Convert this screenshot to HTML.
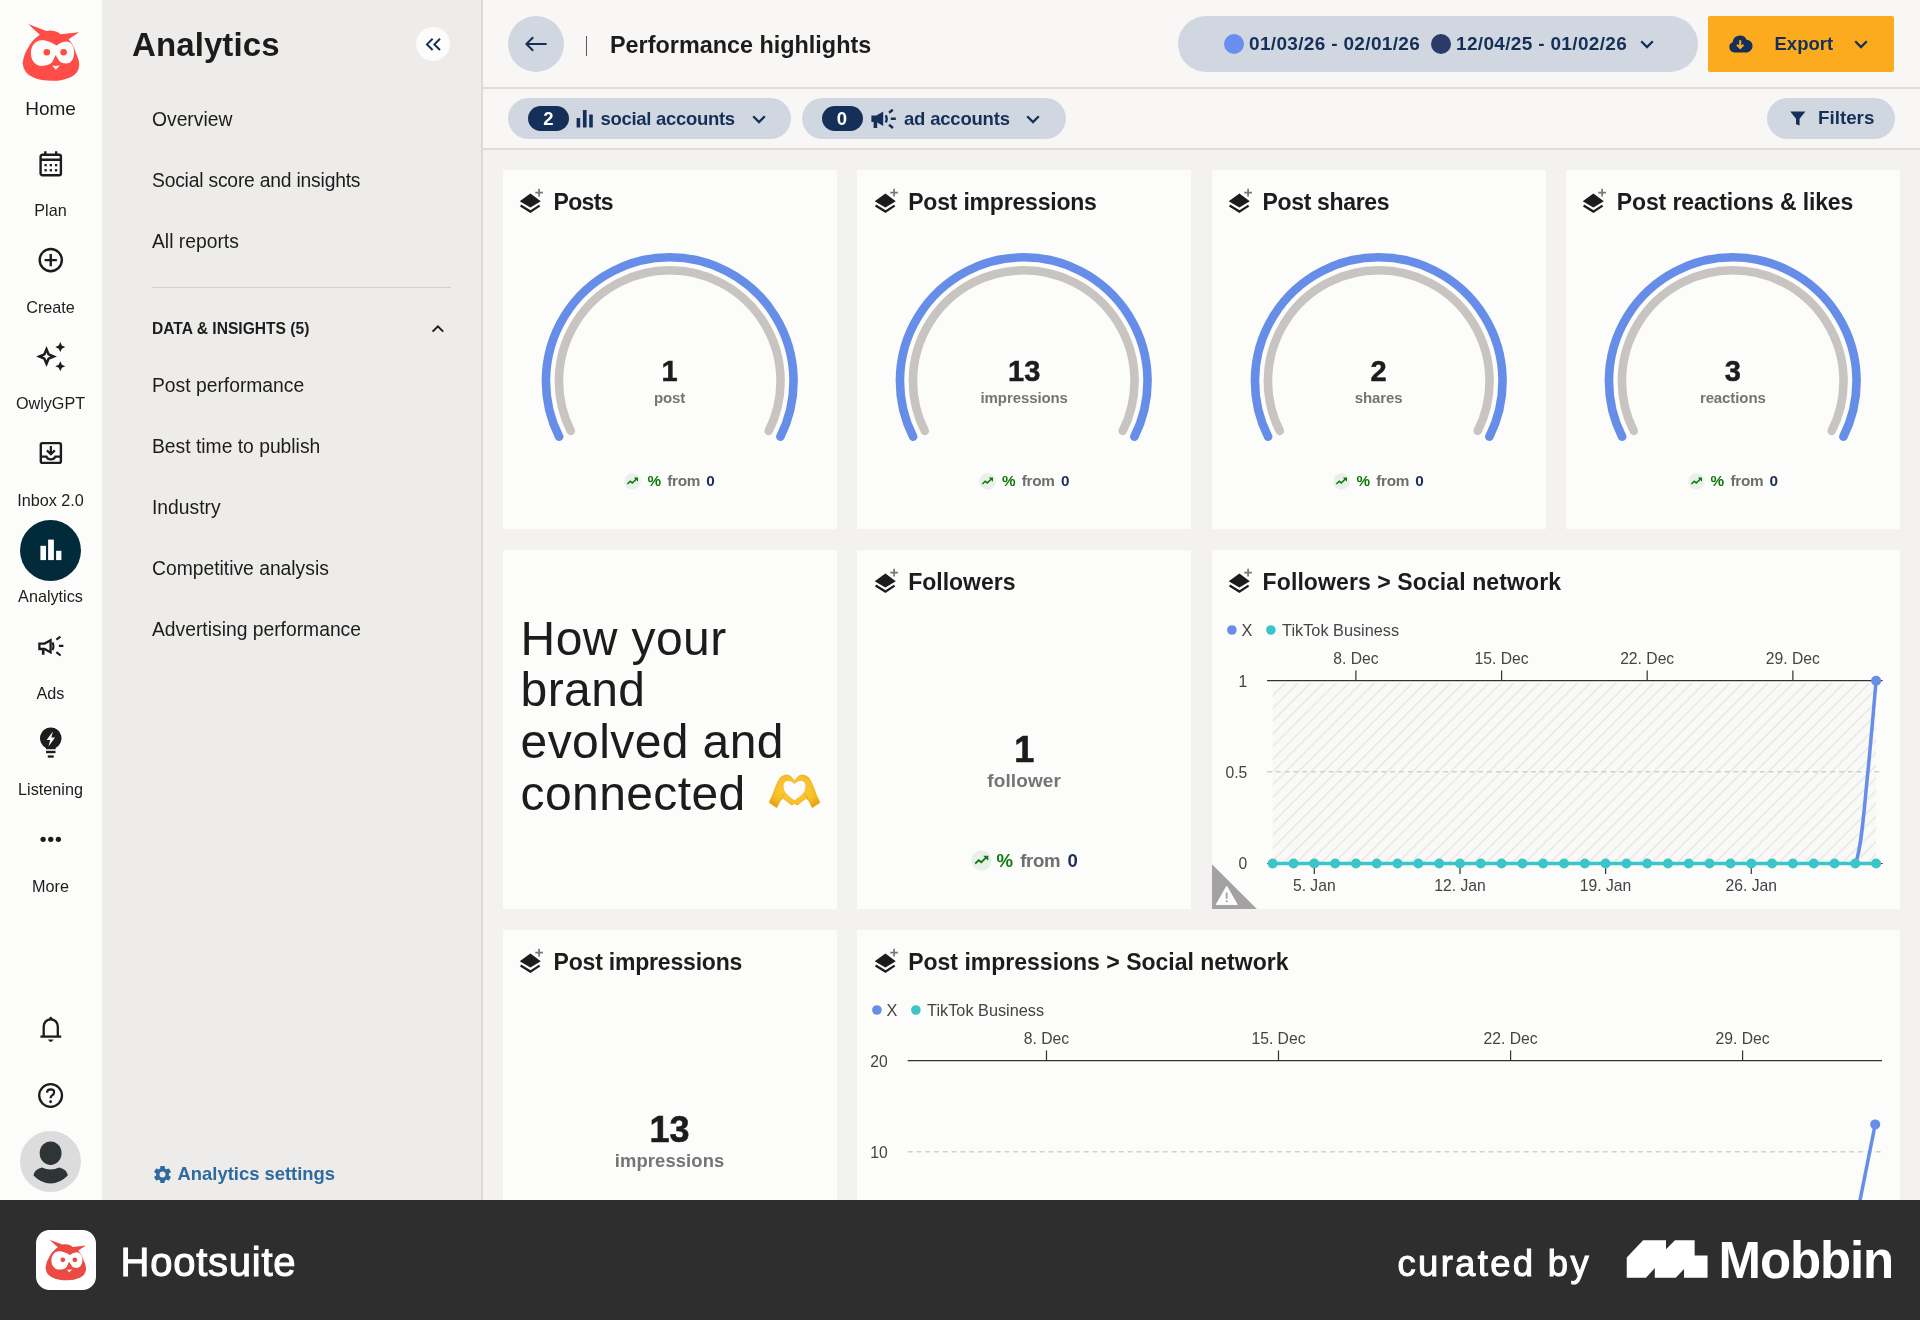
<!DOCTYPE html>
<html lang="en">
<head>
<meta charset="utf-8">
<title>Hootsuite Analytics - Performance highlights</title>
<style>
*{box-sizing:border-box;margin:0;padding:0}
html,body{width:1920px;height:1320px;overflow:hidden;background:#f3f2f0}
body{font-family:"Liberation Sans",sans-serif;color:#1c1c1c;position:relative;-webkit-font-smoothing:antialiased;will-change:transform}
svg{display:block}
.abs{position:absolute}
/* ---------- left rail ---------- */
#rail{position:absolute;left:0;top:0;width:102px;height:1200px;background:#fcfcfb}
.ritem{position:absolute;left:0;width:101px;text-align:center}
.ritem svg{margin:0 auto}
.rlabel{position:absolute;left:0;width:101px;text-align:center;font-size:16.2px;line-height:20px;margin-top:0.5px;color:#1c1c1c;white-space:nowrap}
.rlabel.home{font-size:19px}
#activeDot{position:absolute;left:20px;top:520px;width:61px;height:61px;border-radius:50%;background:#012b3b}
#avatar{position:absolute;left:20px;top:1131px;width:61px;height:61px;border-radius:50%;background:#dcdcdc;overflow:hidden}
/* ---------- sidebar ---------- */
#side{position:absolute;z-index:2;left:102px;top:0;width:381px;height:1200px;background:#edecea;border-right:2px solid #dddbd8}
#side h1{position:absolute;left:30px;top:25px;font-size:33px;line-height:40px;font-weight:700;color:#1c1c1c;letter-spacing:0.1px}
#collapse{position:absolute;left:313.6px;top:26.6px;width:34.8px;height:34.8px;border-radius:50%;background:#fcfcfb}
.snav{position:absolute;left:50px;font-size:19.3px;line-height:24px;color:#1c1c1c;white-space:nowrap;margin-top:1px}
#sdiv{position:absolute;left:50px;top:287px;width:299px;height:1px;background:#d1cfcc}
#shead{position:absolute;left:50px;top:318px;font-size:15.6px;line-height:22px;font-weight:700;color:#1c1c1c;white-space:nowrap}
#ssettings{position:absolute;left:75.6px;top:1162px;font-size:18.4px;line-height:24px;font-weight:700;color:#2d6a9f;white-space:nowrap}
/* ---------- main ---------- */
#topbar{position:absolute;left:482px;top:0;width:1438px;height:89px;background:#f8f7f6;border-bottom:2px solid #dfddda}
#filterbar{position:absolute;left:482px;top:89px;width:1438px;height:61px;background:#f8f7f6;border-bottom:2px solid #dfddda}
.pill{position:absolute;border-radius:40px;background:#d1d7e1;color:#143059;font-weight:700;white-space:nowrap}
.badge{position:absolute;background:#143059;color:#fff;border-radius:14px;text-align:center;font-weight:700}
.card{position:absolute;background:#fcfcfb;width:334px;height:359px;overflow:hidden}
.ctitle{position:absolute;left:51px;top:16px;font-size:23px;line-height:32px;font-weight:700;color:#1c1c1c;white-space:nowrap;letter-spacing:0.1px}
.cicon{position:absolute;left:14.5px;top:17.3px}
  .dt{font-size:19px;line-height:24px;letter-spacing:0.33px}
.gnum{position:absolute;left:0;width:100%;top:184px;text-align:center;font-size:29px;line-height:34px;font-weight:700;color:#1c1c1c;-webkit-text-stroke:0.5px #1c1c1c}
.gunit{position:absolute;left:0;width:100%;top:218px;text-align:center;letter-spacing:-0.1px;font-size:15px;line-height:20px;font-weight:700;color:#757575}
.gdelta{position:absolute;left:0;width:100%;top:301px;text-align:center;font-size:15.3px;word-spacing:1px;line-height:20px;font-weight:700;white-space:nowrap}
.gdelta .tr{display:inline-block;width:17px;height:17px;vertical-align:-3.5px;margin-right:6px}
.pc{color:#0f7b0f}.fr{color:#6f6f6f;letter-spacing:-0.3px;margin-left:1px}.zr{color:#1f2d5a;margin-left:1px}
.hero{position:absolute;left:18px;top:62.5px;font-size:48px;line-height:51.8px;color:#1c1c1c;white-space:nowrap;font-weight:400;letter-spacing:0.4px}
.hero .hh{display:inline-block;vertical-align:top;margin-left:0.5px;margin-top:-2.6px}
.bnum{position:absolute;left:0;width:100%;top:178.5px;text-align:center;font-size:36px;line-height:42px;font-weight:700;color:#1c1c1c;-webkit-text-stroke:0.6px #1c1c1c}
.bunit{position:absolute;left:0;width:100%;top:219px;text-align:center;font-size:19px;line-height:24px;font-weight:700;color:#757575;letter-spacing:0.1px}
.bdelta{position:absolute;left:0;width:100%;top:298.6px;word-spacing:1px;text-align:center;font-size:18.6px;line-height:24px;font-weight:700;white-space:nowrap}
.bdelta .tr{display:inline-block;width:21px;height:21px;vertical-align:-4px;margin-right:5px}
.chart text{font-family:"Liberation Sans",sans-serif;fill:#444}
.chart .lg{font-size:16.3px}
.chart .ax{font-size:15.7px}
/* ---------- footer ---------- */
#foot{position:absolute;left:0;top:1200px;width:1920px;height:120px;background:#2e2e2e}
</style>
</head>
<body>

<!-- LEFT RAIL -->
<nav id="rail">
  <!-- owl logo -->
  <svg class="abs" style="left:10px;top:15px" width="80" height="80" viewBox="0 0 80 80" role="img" aria-label="Hootsuite">
    <path fill="#ff4c46" d="M18.2 9.1 L36.4 15.9 Q42.5 14.8 47.9 17.3 L50.6 19.2 L69.1 17.2 L58.6 24.2 Q64 30.5 66.3 39 Q69.3 45.5 69.2 49.5 Q69 58.5 60.6 62.2 Q52 66 42.4 65.8 Q31 65.8 23.6 62.6 Q13.5 58.5 12.7 48.2 Q13.4 40 18.2 32.7 Q21.5 25.5 29.8 19.7 Z"/>
    <path fill="#fcfcfb" d="M31.5 25.3 C36.5 25.2 40 26.8 46.7 30.4 C51 27.6 54 26.6 56.6 26.6 C61.5 26.8 64.2 32 64.2 37.6 C64.2 43.8 61 48.6 56.4 48.6 C53.2 48.6 51 47.6 49.5 46.3 L45.5 40.2 L42.7 46.8 C40.2 49.4 36.8 50.9 31.6 50.9 C25.5 50.9 20.9 45.5 20.9 38.2 C20.9 30.8 25.4 25.4 31.5 25.3 Z"/>
    <circle cx="36.8" cy="37.3" r="3.3" fill="#ff4c46"/>
    <circle cx="53.6" cy="37.3" r="3.3" fill="#ff4c46"/>
    <path fill="#ff4c46" d="M45.5 40.4 L41.4 49.6 Q45.8 50.6 50.6 49.2 Z"/>
    <path fill="#fcfcfb" d="M42.2 50.6 Q46 51.5 50 50.3 L45.8 54.8 Z"/>
  </svg>
  <div class="rlabel home" style="top:98px">Home</div>

  <!-- Plan -->
  <svg class="abs" style="left:38px;top:150px" width="26" height="28" viewBox="0 0 26 28" fill="none" stroke="#1c1c1c" stroke-width="2.4">
    <rect x="2.6" y="4.8" width="20.3" height="20.4" rx="1.8"/>
    <path d="M2.6 9.8H22.9M7.3 1.2V5M18.2 1.2V5"/>
    <g fill="#1c1c1c" stroke="none"><rect x="6.5" y="14" width="2.3" height="2.3"/><rect x="11.7" y="14" width="2.3" height="2.3"/><rect x="16.9" y="14" width="2.3" height="2.3"/><rect x="6.5" y="19.1" width="2.3" height="2.3"/><rect x="11.7" y="19.1" width="2.3" height="2.3"/><rect x="16.9" y="19.1" width="2.3" height="2.3"/></g>
  </svg>
  <div class="rlabel" style="top:199px">Plan</div>

  <!-- Create -->
  <svg class="abs" style="left:37px;top:246px" width="28" height="28" viewBox="0 0 28 28" fill="none" stroke="#1c1c1c" stroke-width="2.4">
    <circle cx="13.75" cy="14.1" r="11.1"/><path d="M13.75 8V20.2M7.6 14.1H19.9"/>
  </svg>
  <div class="rlabel" style="top:296px">Create</div>

  <!-- OwlyGPT -->
  <svg class="abs" style="left:34px;top:340px" width="34" height="34" viewBox="0 -3 34 34" fill="#1c1c1c">
    <path fill-rule="evenodd" d="M12.50 3.00L15.60 10.40L23.00 13.50L15.60 16.60L12.50 24.00L9.40 16.60L2.00 13.50L9.40 10.40ZM12.50 9.60L13.65 12.35L16.40 13.50L13.65 14.65L12.50 17.40L11.35 14.65L8.60 13.50L11.35 12.35Z"/>
    <path d="M26.30 -0.90L27.85 2.55L31.30 4.10L27.85 5.65L26.30 9.10L24.75 5.65L21.30 4.10L24.75 2.55Z"/>
    <path d="M26.30 18.20L27.85 21.65L31.30 23.20L27.85 24.75L26.30 28.20L24.75 24.75L21.30 23.20L24.75 21.65Z"/>
  </svg>
  <div class="rlabel" style="top:392px">OwlyGPT</div>

  <!-- Inbox -->
  <svg class="abs" style="left:38px;top:440px" width="26" height="26" viewBox="0 0 26 26" fill="none" stroke="#1c1c1c" stroke-width="2.4">
    <rect x="2.8" y="3.1" width="20.1" height="19.8" rx="1.6"/>
    <path d="M2.8 16.6H8.4Q9.5 19.4 12.85 19.4Q16.2 19.4 17.3 16.6H22.9"/>
    <path d="M12.85 6V14M8.9 10.4L12.85 14.3L16.8 10.4" stroke-width="2.2"/>
  </svg>
  <div class="rlabel" style="top:489px">Inbox 2.0</div>

  <!-- Analytics (active) -->
  <div id="activeDot"></div>
  <svg class="abs" style="left:38px;top:537px" width="26" height="26" viewBox="0 0 26 26" fill="#fcfcfb">
    <rect x="2.4" y="8.8" width="5.6" height="14.3"/><rect x="10.1" y="2.6" width="5.8" height="20.5"/><rect x="18.1" y="13.8" width="5.3" height="9.3"/>
  </svg>
  <div class="rlabel" style="top:585px">Analytics</div>

  <!-- Ads -->
  <svg class="abs" style="left:36px;top:633px" width="30" height="26" viewBox="0 0 30 26" fill="none" stroke="#1c1c1c" stroke-width="2.3">
    <path d="M3.4 10.6H8.6L14.6 7.2V19.4L8.6 16H3.4Z" stroke-linejoin="miter"/>
    <path d="M7.2 16V21.8" stroke-width="2.6"/>
    <path d="M16.6 9.4Q18.4 13.3 16.6 17.2" stroke-width="2"/>
    <path d="M20.4 6.7L24.4 3.7M22.9 12.9H27.4M20.4 19.2L24.6 22.5" stroke-width="2.2"/>
  </svg>
  <div class="rlabel" style="top:682px">Ads</div>

  <!-- Listening -->
  <svg class="abs" style="left:38px;top:726px" width="26" height="34" viewBox="0 0 26 34">
    <path fill="#1c1c1c" d="M12.75 1.6 A10.7 10.7 0 0 1 17.6 21.9 V23.3 H7.9 V21.9 A10.7 10.7 0 0 1 12.75 1.6Z"/>
    <path fill="#fcfcfb" d="M14.9 5.4 L8.6 13.9 H12.2 L10.5 20.6 L17 11.5 H13.3 Z"/>
    <rect fill="#1c1c1c" x="8" y="24.8" width="9.5" height="2.4"/><rect fill="#1c1c1c" x="9.8" y="29.4" width="5.9" height="2.3"/>
  </svg>
  <div class="rlabel" style="top:778px">Listening</div>

  <!-- More -->
  <svg class="abs" style="left:38px;top:834px" width="26" height="10" viewBox="0 0 26 10" fill="#1c1c1c">
    <circle cx="5.1" cy="5.3" r="2.65"/><circle cx="12.75" cy="5.3" r="2.65"/><circle cx="20.4" cy="5.3" r="2.65"/>
  </svg>
  <div class="rlabel" style="top:875px">More</div>

  <!-- bell -->
  <svg class="abs" style="left:38px;top:1014px" width="26" height="30" viewBox="0 0 26 30" fill="none" stroke="#1c1c1c" stroke-width="2.3">
    <path d="M5.7 22.4V12.4A7.05 7.05 0 0 1 19.8 12.4V22.4"/><path d="M2.4 22.6H23.2"/>
    <circle cx="12.75" cy="4.2" r="1.5" fill="#1c1c1c" stroke="none"/>
    <path d="M9.9 25.6Q12.75 30.2 15.6 25.6Z" fill="#1c1c1c" stroke="none"/>
  </svg>

  <!-- help -->
  <svg class="abs" style="left:36px;top:1081px" width="30" height="30" viewBox="0 0 30 30" fill="none" stroke="#1c1c1c" stroke-width="2.3">
    <circle cx="14.6" cy="14.5" r="11.4"/>
    <path d="M11 11.6Q11.2 8.3 14.7 8.3Q18.2 8.4 18.1 11.3Q18.1 13.2 16.1 14.4Q14.6 15.4 14.6 17.3" stroke-width="2.2"/>
    <circle cx="14.6" cy="20.7" r="1.45" fill="#1c1c1c" stroke="none"/>
  </svg>

  <!-- avatar -->
  <div id="avatar">
    <svg width="61" height="61" viewBox="0 0 61 61"><ellipse cx="30.6" cy="22.2" rx="10.9" ry="11.8" fill="#2f3437"/><path fill="#2f3437" d="M13.5 44.5Q14 38.5 22 36.4Q30.6 40.5 39.2 36.4Q47.2 38.5 47.8 44.5Q40 52.4 30.6 52.4Q21.2 52.4 13.5 44.5Z"/></svg>
  </div>
</nav>

<!-- SIDEBAR -->
<aside id="side">
  <h1>Analytics</h1>
  <div id="collapse"><svg width="34.8" height="34.8" viewBox="0.6 0.6 34.8 34.8" fill="none" stroke="#143059" stroke-width="2"><path d="M17.2 12.4L11.6 18L17.2 23.6M24.6 12.4L19 18L24.6 23.6"/></svg></div>
  <div class="snav" style="top:107px">Overview</div>
  <div class="snav" style="top:168px;letter-spacing:-0.2px">Social score and insights</div>
  <div class="snav" style="top:229px">All reports</div>
  <div id="sdiv"></div>
  <div id="shead">DATA &amp; INSIGHTS (5)</div>
  <svg class="abs" style="left:326px;top:320px" width="20" height="18" viewBox="0 0 20 18" fill="none" stroke="#1c1c1c" stroke-width="2"><path d="M4.6 11.6L9.9 6.3L15.2 11.6"/></svg>
  <div class="snav" style="top:373px">Post performance</div>
  <div class="snav" style="top:434px">Best time to publish</div>
  <div class="snav" style="top:495px">Industry</div>
  <div class="snav" style="top:556px">Competitive analysis</div>
  <div class="snav" style="top:617px">Advertising performance</div>
  <svg class="abs" style="left:50.6px;top:1165px" width="19" height="19" viewBox="-9.5 -9.5 19 19" fill="#2d6a9f"><g><rect x="-2.3" y="-8.6" width="4.6" height="17.2" rx="0.8"/><rect x="-2.3" y="-8.6" width="4.6" height="17.2" rx="0.8" transform="rotate(60)"/><rect x="-2.3" y="-8.6" width="4.6" height="17.2" rx="0.8" transform="rotate(120)"/></g><circle r="6.5"/><circle r="3" fill="#edecea"/></svg>
  <div id="ssettings">Analytics settings</div>
</aside>

<!-- TOP BAR -->
<header id="topbar">
  <div class="abs" id="backbtn" style="left:26px;top:16px;width:56px;height:56px;border-radius:50%;background:#d1d7e1">
    <svg width="56" height="56" viewBox="0 0 56 56" fill="none" stroke="#143059" stroke-width="2"><path d="M38.6 28H18.6M25.2 21.2L18.4 28L25.2 34.8"/></svg>
  </div>
  <div class="abs" style="left:104px;top:36px;width:1.2px;height:20px;background:#55595f"></div>
  <div class="abs" id="ptitle" style="left:128px;top:28.7px;font-size:23.4px;line-height:32px;font-weight:700;color:#1c1c1c;white-space:nowrap">Performance highlights</div>

  <div class="pill" style="left:696px;top:16px;width:520px;height:56px">
    <span class="abs" style="left:46px;top:18px;width:20px;height:20px;border-radius:50%;background:#6a8df0"></span>
    <span class="abs dt" style="left:71px;top:16px">01/03/26 - 02/01/26</span>
    <span class="abs" style="left:252.5px;top:18px;width:20px;height:20px;border-radius:50%;background:#2b3a67"></span>
    <span class="abs dt" style="left:278px;top:16px">12/04/25 - 01/02/26</span>
    <svg class="abs" style="left:461px;top:20px" width="16" height="16" viewBox="0 0 16 16" fill="none" stroke="#143059" stroke-width="2.3"><path d="M2.2 5.2L8 11L13.8 5.2"/></svg>
  </div>

  <div class="abs" id="export" style="left:1226px;top:16px;width:186.4px;height:56px;border-radius:2px;background:#fcab1f;color:#143059;font-weight:700">
    <svg class="abs" style="left:20px;top:17px" width="26" height="22" viewBox="0 0 26 22"><path fill="#143059" d="M6.6 19.4A5.3 5.3 0 0 1 4.6 9.2A7.4 7.4 0 0 1 18.6 6.7A6.4 6.4 0 0 1 19.2 19.4Z"/><path d="M12.2 7.2V14.6M9 11.8L12.2 15L15.4 11.8" fill="none" stroke="#fcab1f" stroke-width="2"/></svg>
    <span class="abs" style="left:66.5px;top:16px;font-size:18.5px;line-height:24px">Export</span>
    <svg class="abs" style="left:145px;top:20px" width="16" height="16" viewBox="0 0 16 16" fill="none" stroke="#143059" stroke-width="2.3"><path d="M2.2 5.2L8 11L13.8 5.2"/></svg>
  </div>
</header>
<div id="filterbar">
  <div class="pill" style="left:26px;top:9px;width:283px;height:41px">
    <span class="badge" style="left:20px;top:8px;width:41px;height:25px;font-size:18.5px;line-height:25px">2</span>
    <svg class="abs" style="left:68px;top:11px" width="18" height="20" viewBox="0 0 18 20" fill="#143059"><rect x="0.6" y="9" width="3.6" height="9.6" rx="0.6"/><rect x="6.9" y="1" width="3.7" height="17.6" rx="0.6"/><rect x="13.2" y="5.6" width="3.6" height="13" rx="0.6"/></svg>
    <span class="abs" style="left:92.5px;top:9px;font-size:18.5px;line-height:24px;letter-spacing:-0.3px">social accounts</span>
    <svg class="abs" style="left:243px;top:13px" width="16" height="16" viewBox="0 0 16 16" fill="none" stroke="#143059" stroke-width="2.3"><path d="M2.2 5.2L8 11L13.8 5.2"/></svg>
  </div>
  <div class="pill" style="left:319.5px;top:9px;width:264px;height:41px">
    <span class="badge" style="left:20px;top:8px;width:41px;height:25px;font-size:18.5px;line-height:25px">0</span>
    <svg class="abs" style="left:68px;top:9px" width="28" height="24" viewBox="0 0 28 24"><path fill="#143059" d="M1.4 8.6H6.4L13.2 4.6V19L6.4 15H1.4Z"/><rect fill="#143059" x="3.6" y="14" width="3.6" height="7"/><path fill="none" stroke="#143059" stroke-width="2.3" d="M15.8 8.2Q17.6 11.8 15.8 15.4"/><path fill="none" stroke="#143059" stroke-width="2.4" d="M19 5.8L22.8 2.8M20.8 11.8H25.8M19 17.8L23 21"/></svg>
    <span class="abs" style="left:102.5px;top:9px;font-size:18.5px;line-height:24px;letter-spacing:-0.2px">ad accounts</span>
    <svg class="abs" style="left:223px;top:13px" width="16" height="16" viewBox="0 0 16 16" fill="none" stroke="#143059" stroke-width="2.3"><path d="M2.2 5.2L8 11L13.8 5.2"/></svg>
  </div>
  <div class="pill" style="left:1284.5px;top:9px;width:128.5px;height:41px">
    <svg class="abs" style="left:22px;top:12px" width="18" height="18" viewBox="0 0 18 18" fill="#143059"><path d="M1.2 1.6H16.4L10.6 8.8V15.6L7 14.2V8.8Z"/></svg>
    <span class="abs" style="left:51.5px;top:8px;font-size:18.8px;line-height:24px">Filters</span>
  </div>
</div>

<!-- CARDS -->
<main id="cards">
  <section class="card" style="left:502.6px;top:170px">
    <svg class="cicon" width="28" height="28" viewBox="0 0 28 28"><path fill="#1c1c1c" d="M2.7 14.2L13.4 6.6L23.8 14.2L13.4 20.6Z"/><path fill="none" stroke="#1c1c1c" stroke-width="2.3" d="M3.6 18.6L13.4 24.6L22.6 18.6"/><path fill="none" stroke="#777" stroke-width="1.7" d="M22.1 1.8V9.4M18.3 5.6H25.9"/></svg>
    <h2 class="ctitle" style="letter-spacing:-0.7px">Posts</h2>
    <svg class="abs" style="left:0;top:0" width="334" height="359" viewBox="0 0 334 359" fill="none" stroke-linecap="round" stroke-width="8.6"><path stroke="#668ee8" d="M56.15 266.73A123.8 123.8 0 1 1 277.35 266.73"/><path stroke="#c8c4c2" d="M67.76 260.88A110.8 110.8 0 1 1 265.74 260.88"/></svg>
    <div class="gnum">1</div>
    <div class="gunit">post</div>
    <div class="gdelta"><span class="tr"><svg width="17" height="17" viewBox="0 0 17 17"><circle cx="8.5" cy="8.5" r="8.3" fill="#e9efe9"/><path fill="none" stroke="#0f7b0f" stroke-width="1.5" d="M3.4 11L6.2 8.3L8.3 9.9L12.4 6"/><path fill="#0f7b0f" d="M9.8 4.6H14V8.8Z"/></svg></span><span class="pc">%</span> <span class="fr">from</span> <span class="zr">0</span></div>
  </section>
  <section class="card" style="left:857.2px;top:170px">
    <svg class="cicon" width="28" height="28" viewBox="0 0 28 28"><path fill="#1c1c1c" d="M2.7 14.2L13.4 6.6L23.8 14.2L13.4 20.6Z"/><path fill="none" stroke="#1c1c1c" stroke-width="2.3" d="M3.6 18.6L13.4 24.6L22.6 18.6"/><path fill="none" stroke="#777" stroke-width="1.7" d="M22.1 1.8V9.4M18.3 5.6H25.9"/></svg>
    <h2 class="ctitle" style="letter-spacing:-0.2px">Post impressions</h2>
    <svg class="abs" style="left:0;top:0" width="334" height="359" viewBox="0 0 334 359" fill="none" stroke-linecap="round" stroke-width="8.6"><path stroke="#668ee8" d="M56.15 266.73A123.8 123.8 0 1 1 277.35 266.73"/><path stroke="#c8c4c2" d="M67.76 260.88A110.8 110.8 0 1 1 265.74 260.88"/></svg>
    <div class="gnum">13</div>
    <div class="gunit">impressions</div>
    <div class="gdelta"><span class="tr"><svg width="17" height="17" viewBox="0 0 17 17"><circle cx="8.5" cy="8.5" r="8.3" fill="#e9efe9"/><path fill="none" stroke="#0f7b0f" stroke-width="1.5" d="M3.4 11L6.2 8.3L8.3 9.9L12.4 6"/><path fill="#0f7b0f" d="M9.8 4.6H14V8.8Z"/></svg></span><span class="pc">%</span> <span class="fr">from</span> <span class="zr">0</span></div>
  </section>
  <section class="card" style="left:1211.6px;top:170px">
    <svg class="cicon" width="28" height="28" viewBox="0 0 28 28"><path fill="#1c1c1c" d="M2.7 14.2L13.4 6.6L23.8 14.2L13.4 20.6Z"/><path fill="none" stroke="#1c1c1c" stroke-width="2.3" d="M3.6 18.6L13.4 24.6L22.6 18.6"/><path fill="none" stroke="#777" stroke-width="1.7" d="M22.1 1.8V9.4M18.3 5.6H25.9"/></svg>
    <h2 class="ctitle" style="letter-spacing:-0.35px">Post shares</h2>
    <svg class="abs" style="left:0;top:0" width="334" height="359" viewBox="0 0 334 359" fill="none" stroke-linecap="round" stroke-width="8.6"><path stroke="#668ee8" d="M56.15 266.73A123.8 123.8 0 1 1 277.35 266.73"/><path stroke="#c8c4c2" d="M67.76 260.88A110.8 110.8 0 1 1 265.74 260.88"/></svg>
    <div class="gnum">2</div>
    <div class="gunit">shares</div>
    <div class="gdelta"><span class="tr"><svg width="17" height="17" viewBox="0 0 17 17"><circle cx="8.5" cy="8.5" r="8.3" fill="#e9efe9"/><path fill="none" stroke="#0f7b0f" stroke-width="1.5" d="M3.4 11L6.2 8.3L8.3 9.9L12.4 6"/><path fill="#0f7b0f" d="M9.8 4.6H14V8.8Z"/></svg></span><span class="pc">%</span> <span class="fr">from</span> <span class="zr">0</span></div>
  </section>
  <section class="card" style="left:1565.8px;top:170px">
    <svg class="cicon" width="28" height="28" viewBox="0 0 28 28"><path fill="#1c1c1c" d="M2.7 14.2L13.4 6.6L23.8 14.2L13.4 20.6Z"/><path fill="none" stroke="#1c1c1c" stroke-width="2.3" d="M3.6 18.6L13.4 24.6L22.6 18.6"/><path fill="none" stroke="#777" stroke-width="1.7" d="M22.1 1.8V9.4M18.3 5.6H25.9"/></svg>
    <h2 class="ctitle" style="letter-spacing:-0.12px">Post reactions &amp; likes</h2>
    <svg class="abs" style="left:0;top:0" width="334" height="359" viewBox="0 0 334 359" fill="none" stroke-linecap="round" stroke-width="8.6"><path stroke="#668ee8" d="M56.15 266.73A123.8 123.8 0 1 1 277.35 266.73"/><path stroke="#c8c4c2" d="M67.76 260.88A110.8 110.8 0 1 1 265.74 260.88"/></svg>
    <div class="gnum">3</div>
    <div class="gunit">reactions</div>
    <div class="gdelta"><span class="tr"><svg width="17" height="17" viewBox="0 0 17 17"><circle cx="8.5" cy="8.5" r="8.3" fill="#e9efe9"/><path fill="none" stroke="#0f7b0f" stroke-width="1.5" d="M3.4 11L6.2 8.3L8.3 9.9L12.4 6"/><path fill="#0f7b0f" d="M9.8 4.6H14V8.8Z"/></svg></span><span class="pc">%</span> <span class="fr">from</span> <span class="zr">0</span></div>
  </section>
  <section class="card" style="left:502.6px;top:550px">
    <p class="hero">How your<br>brand<br>evolved and<br>connected <svg class="hh" width="70" height="50" viewBox="0 0 70 50" role="img" aria-label="&#129782; heart hands"><defs><radialGradient id="hg" cx="50%" cy="45%" r="60%"><stop offset="0" stop-color="#ffd43a"/><stop offset="0.7" stop-color="#f7bd26"/><stop offset="1" stop-color="#eaa315"/></radialGradient></defs><path fill="url(#hg)" stroke="#e29a14" stroke-width="0.5" fill-rule="evenodd" d="M9.1 37.5L12.5 30.3L15.2 22.7L18.2 15.9Q20.3 11.8 22.7 11Q25 9.8 27.3 10Q29.6 10.2 31.1 11.7L34.5 15.8L37.9 11.7Q39.4 10.2 41.7 10Q44 9.8 46.3 11Q48.7 11.8 50.8 15.9L53.8 22.7L56.5 30.3L59.9 37.5L52.3 42.8L48.5 35.6L46.3 33.3Q42 36 38 39.8Q36 40.6 34.5 38Q33 40.6 31 39.8Q27 36 22.7 33.3L20.5 35.6L16.7 42.8Z M34.5 18.6Q31 14.8 27.3 15.5Q23 16.5 23.1 21.2Q23.2 25 24.8 27.5Q28 31.5 34.5 35.8Q41 31.5 44.2 27.5Q45.8 25 45.9 21.2Q46 16.5 41.7 15.5Q38 14.8 34.5 18.6Z"/><path fill="none" stroke="#e8a216" stroke-width="1" opacity=".7" d="M20.5 35.6Q23 30 24.6 27.4M48.5 35.6Q46 30 44.4 27.4"/></svg></p>
  </section>
  <section class="card" style="left:857.2px;top:550px">
    <svg class="cicon" width="28" height="28" viewBox="0 0 28 28"><path fill="#1c1c1c" d="M2.7 14.2L13.4 6.6L23.8 14.2L13.4 20.6Z"/><path fill="none" stroke="#1c1c1c" stroke-width="2.3" d="M3.6 18.6L13.4 24.6L22.6 18.6"/><path fill="none" stroke="#777" stroke-width="1.7" d="M22.1 1.8V9.4M18.3 5.6H25.9"/></svg>
    <h2 class="ctitle" style="letter-spacing:0">Followers</h2>
    <div class="bnum">1</div>
    <div class="bunit">follower</div>
    <div class="bdelta"><span class="tr"><svg width="21" height="21" viewBox="0 0 17 17"><circle cx="8.5" cy="8.5" r="8.3" fill="#e9efe9"/><path fill="none" stroke="#0f7b0f" stroke-width="1.5" d="M3.4 11L6.2 8.3L8.3 9.9L12.4 6"/><path fill="#0f7b0f" d="M9.8 4.6H14V8.8Z"/></svg></span><span class="pc">%</span> <span class="fr">from</span> <span class="zr">0</span></div>
  </section>
  <section class="card" style="left:1211.6px;top:550px;width:688.2px">
    <svg class="cicon" width="28" height="28" viewBox="0 0 28 28"><path fill="#1c1c1c" d="M2.7 14.2L13.4 6.6L23.8 14.2L13.4 20.6Z"/><path fill="none" stroke="#1c1c1c" stroke-width="2.3" d="M3.6 18.6L13.4 24.6L22.6 18.6"/><path fill="none" stroke="#777" stroke-width="1.7" d="M22.1 1.8V9.4M18.3 5.6H25.9"/></svg>
    <h2 class="ctitle" style="letter-spacing:0.1px">Followers &gt; Social network</h2>
    <svg class="abs chart" style="left:0;top:0" width="687.7" height="359" viewBox="0 0 687.7 359">
      <defs><pattern id="hatch" x="60.7" y="133" width="12.7" height="12.7" patternUnits="userSpaceOnUse"><rect width="12.7" height="12.7" fill="#f9f9f8"/><path d="M-1 13.7L13.7 -1M-1 1L1 -1M11.7 13.7L13.7 11.7" stroke="#e1e0de" stroke-width="1" fill="none"/></pattern></defs>
      <rect x="60.7" y="133" width="603.4" height="180.5" fill="url(#hatch)"/>
      <circle cx="19.9" cy="80" r="4.8" fill="#668ee8"/><text class="lg" x="29.6" y="85.6">X</text>
      <circle cx="58.9" cy="80" r="4.8" fill="#3cc5c8"/><text class="lg" x="70.1" y="85.6">TikTok Business</text>
      <path d="M55.1 130.7H670.6M143.9 120.5V130.7M289.6 120.5V130.7M435.2 120.5V130.7M580.9 120.5V130.7" stroke="#333" stroke-width="1.2" fill="none"/>
      <path d="M55.1 221.7H670.6" stroke="#d0d0d0" stroke-width="1.4" stroke-dasharray="4.8 4" fill="none"/>
      <path d="M55.1 313.5H670.6M102.3 313.5V324M248.0 313.5V324M393.6 313.5V324M539.3 313.5V324" stroke="#333" stroke-width="1.2" fill="none"/>
      <g class="ax" text-anchor="middle"><text x="143.9" y="114">8. Dec</text><text x="289.6" y="114">15. Dec</text><text x="435.2" y="114">22. Dec</text><text x="580.9" y="114">29. Dec</text><text x="102.3" y="341.4">5. Jan</text><text x="248.0" y="341.4">12. Jan</text><text x="393.6" y="341.4">19. Jan</text><text x="539.3" y="341.4">26. Jan</text></g>
      <g class="ax" text-anchor="end"><text x="35.3" y="136.9">1</text><text x="35.3" y="227.6">0.5</text><text x="35.3" y="319.4">0</text></g>
      <path d="M643.3 313.5C649.8 300 652.8 250 655.9 222C658.9 192 661.5 160 664.1 130.8" stroke="#668ee8" stroke-width="3.5" fill="none" stroke-linecap="round"/>
      <path d="M60.7 313.5H664.1" stroke="#3cc5c8" stroke-width="3.4" fill="none"/>
      <g fill="#3cc5c8"><circle cx="60.7" cy="313.5" r="5"/><circle cx="81.5" cy="313.5" r="5"/><circle cx="102.3" cy="313.5" r="5"/><circle cx="123.1" cy="313.5" r="5"/><circle cx="143.9" cy="313.5" r="5"/><circle cx="164.7" cy="313.5" r="5"/><circle cx="185.5" cy="313.5" r="5"/><circle cx="206.3" cy="313.5" r="5"/><circle cx="227.2" cy="313.5" r="5"/><circle cx="248.0" cy="313.5" r="5"/><circle cx="268.8" cy="313.5" r="5"/><circle cx="289.6" cy="313.5" r="5"/><circle cx="310.4" cy="313.5" r="5"/><circle cx="331.2" cy="313.5" r="5"/><circle cx="352.0" cy="313.5" r="5"/><circle cx="372.8" cy="313.5" r="5"/><circle cx="393.6" cy="313.5" r="5"/><circle cx="414.4" cy="313.5" r="5"/><circle cx="435.2" cy="313.5" r="5"/><circle cx="456.0" cy="313.5" r="5"/><circle cx="476.8" cy="313.5" r="5"/><circle cx="497.6" cy="313.5" r="5"/><circle cx="518.5" cy="313.5" r="5"/><circle cx="539.3" cy="313.5" r="5"/><circle cx="560.1" cy="313.5" r="5"/><circle cx="580.9" cy="313.5" r="5"/><circle cx="601.7" cy="313.5" r="5"/><circle cx="622.5" cy="313.5" r="5"/><circle cx="643.3" cy="313.5" r="5"/><circle cx="664.1" cy="313.5" r="5"/></g>
      <circle cx="664.1" cy="130.8" r="5" fill="#668ee8"/>
      <path d="M0 314.2V359H44.9Z" fill="#a3a1a1"/>
      <path d="M14.7 336.2L25.2 354.6H4.2Z" fill="#fcfcfb" stroke="#fcfcfb" stroke-width="1" stroke-linejoin="round"/>
      <path d="M14.7 342.6V348.6" stroke="#a3a1a1" stroke-width="1.8"/><circle cx="14.7" cy="351.2" r="1.05" fill="#a3a1a1"/>
    </svg>
  </section>
  <section class="card" style="left:502.6px;top:930px">
    <svg class="cicon" width="28" height="28" viewBox="0 0 28 28"><path fill="#1c1c1c" d="M2.7 14.2L13.4 6.6L23.8 14.2L13.4 20.6Z"/><path fill="none" stroke="#1c1c1c" stroke-width="2.3" d="M3.6 18.6L13.4 24.6L22.6 18.6"/><path fill="none" stroke="#777" stroke-width="1.7" d="M22.1 1.8V9.4M18.3 5.6H25.9"/></svg>
    <h2 class="ctitle" style="letter-spacing:-0.2px">Post impressions</h2>
    <div class="bnum">13</div>
    <div class="bunit" style="font-size:18.4px">impressions</div>
  </section>
  <section class="card" style="left:857.2px;top:930px;width:1042.6px">
    <svg class="cicon" width="28" height="28" viewBox="0 0 28 28"><path fill="#1c1c1c" d="M2.7 14.2L13.4 6.6L23.8 14.2L13.4 20.6Z"/><path fill="none" stroke="#1c1c1c" stroke-width="2.3" d="M3.6 18.6L13.4 24.6L22.6 18.6"/><path fill="none" stroke="#777" stroke-width="1.7" d="M22.1 1.8V9.4M18.3 5.6H25.9"/></svg>
    <h2 class="ctitle" style="letter-spacing:0">Post impressions &gt; Social network</h2>
    <svg class="abs chart" style="left:0;top:0" width="1042.1" height="359" viewBox="0 0 1042.1 359">
      <circle cx="19.9" cy="80" r="4.8" fill="#668ee8"/><text class="lg" x="29.6" y="85.6">X</text>
      <circle cx="58.9" cy="80" r="4.8" fill="#3cc5c8"/><text class="lg" x="70.1" y="85.6">TikTok Business</text>
      <path d="M50.7 130.7H1025M189.5 120.5V130.7M421.5 120.5V130.7M653.6 120.5V130.7M885.6 120.5V130.7" stroke="#333" stroke-width="1.2" fill="none"/>
      <path d="M50.7 221.7H1025" stroke="#d0d0d0" stroke-width="1.4" stroke-dasharray="4.8 4" fill="none"/>
      <g class="ax" text-anchor="middle"><text x="189.5" y="114">8. Dec</text><text x="421.5" y="114">15. Dec</text><text x="653.6" y="114">22. Dec</text><text x="885.6" y="114">29. Dec</text></g>
      <g class="ax" text-anchor="end"><text x="30.8" y="137">20</text><text x="30.8" y="227.7">10</text></g>
      <path d="M1001.2 279.4L1018.2 194.4" stroke="#668ee8" stroke-width="3.5" fill="none" stroke-linecap="round"/>
      <circle cx="1018.2" cy="194.4" r="5" fill="#668ee8"/>
    </svg>
  </section>
</main>

<!-- FOOTER -->
<footer id="foot">
  <div class="abs" style="left:36px;top:30px;width:60px;height:60px;border-radius:13.5px;background:#fff">
    <svg class="abs" style="left:0;top:0" width="60" height="60" viewBox="0 0 80 80"><g transform="translate(0.6,4.2) scale(0.955)">
      <path fill="#ea4a41" d="M18.2 9.1 L36.4 15.9 Q42.5 14.8 47.9 17.3 L50.6 19.2 L69.1 17.2 L58.6 24.2 Q64 30.5 66.3 39 Q69.3 45.5 69.2 49.5 Q69 58.5 60.6 62.2 Q52 66 42.4 65.8 Q31 65.8 23.6 62.6 Q13.5 58.5 12.7 48.2 Q13.4 40 18.2 32.7 Q21.5 25.5 29.8 19.7 Z"/>
      <path fill="#fff" d="M31.5 25.3 C36.5 25.2 40 26.8 46.7 30.4 C51 27.6 54 26.6 56.6 26.6 C61.5 26.8 64.2 32 64.2 37.6 C64.2 43.8 61 48.6 56.4 48.6 C53.2 48.6 51 47.6 49.5 46.3 L45.5 40.2 L42.7 46.8 C40.2 49.4 36.8 50.9 31.6 50.9 C25.5 50.9 20.9 45.5 20.9 38.2 C20.9 30.8 25.4 25.4 31.5 25.3 Z"/>
      <circle cx="36.8" cy="37.3" r="3.3" fill="#ea4a41"/><circle cx="53.6" cy="37.3" r="3.3" fill="#ea4a41"/>
      <path fill="#ea4a41" d="M45.5 40.4 L41.4 49.6 Q45.8 50.6 50.6 49.2 Z"/><path fill="#fff" d="M42.2 50.6 Q46 51.5 50 50.3 L45.8 54.8 Z"/></g>
    </svg>
  </div>
  <div class="abs" id="fbrand" style="left:120.5px;top:38.2px;font-size:40px;line-height:48px;color:#fff;letter-spacing:0.75px;-webkit-text-stroke:1px #fff;white-space:nowrap">Hootsuite</div>
  <div class="abs" id="fcur" style="left:1397.5px;top:42px;font-size:36.5px;line-height:44px;color:#fff;letter-spacing:2.3px;-webkit-text-stroke:1px #fff;white-space:nowrap">curated by</div>
  <svg class="abs" style="left:1620px;top:30px" width="100" height="60" viewBox="1620 1230 100 60"><path fill="#fff" d="M1626.75 1257.5L1643.1 1240.3H1666V1249.2L1674.9 1240.3H1694.65V1255.5H1707.55V1277.85H1684.05V1269L1675.75 1277.85H1654.8V1268.1L1645.95 1277.85H1626.75Z"/></svg>
  <div class="abs" id="fmob" style="left:1718.6px;top:30.6px;font-size:51px;line-height:60px;font-weight:700;color:#fff;letter-spacing:-1.15px;white-space:nowrap">Mobbin</div>
</footer>

</body>
</html>
